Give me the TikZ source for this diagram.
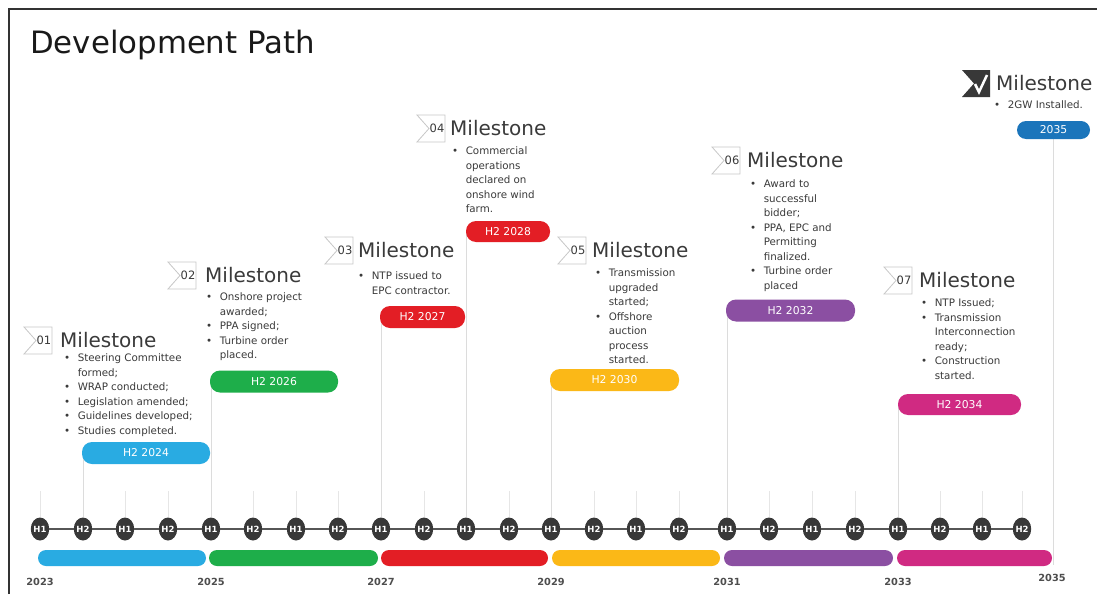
\documentclass[tikz,border=0pt]{standalone}
\usepackage{fontspec}
\setmainfont{DejaVu Sans}
\usetikzlibrary{positioning,shapes.geometric,backgrounds}
\definecolor{framegray}{HTML}{333333}
\definecolor{txt}{HTML}{3A3A3A}
\definecolor{hdark}{HTML}{383838}
\definecolor{guidegray}{HTML}{DCDCDC}
\definecolor{flaggray}{HTML}{C8C8C8}
\definecolor{cblue}{HTML}{29ABE2}
\definecolor{cgreen}{HTML}{1EAE4A}
\definecolor{cred}{HTML}{E31E25}
\definecolor{cyellow}{HTML}{FBB817}
\definecolor{cpurple}{HTML}{8B4FA2}
\definecolor{cmagenta}{HTML}{D02A82}
\definecolor{cnavy}{HTML}{1B75BB}
\newcommand{\msitems}[1]{\begin{tabular}[t]{@{}l@{\hspace{7.5pt}}l@{}}#1\end{tabular}}

\begin{document}
\begin{tikzpicture}[x=1pt, y=-1pt,
  every node/.style={font=\fontsize{10.3}{14.5}\selectfont, text=txt},
  half/.style={ellipse, fill=hdark, minimum width=16pt, minimum height=23pt, inner sep=0pt,
    text=white, font=\fontsize{8.5}{9}\selectfont\bfseries},
  pill/.style={fill=#1, rounded corners=10pt, minimum height=22pt, inner sep=0pt, text=white,
    font=\fontsize{10.8}{12}\selectfont},
  items/.style={anchor=base west, inner sep=0pt},
  mstitle/.style={anchor=west, inner sep=0pt, font=\fontsize{20}{22}\selectfont},
  year/.style={inner sep=0pt, font=\fontsize{9.8}{12}\selectfont\bfseries, text=txt!90},
  guide/.style={draw=guidegray, line width=0.8pt},
  tickline/.style={draw=guidegray!70, line width=0.6pt},
  flagline/.style={draw=flaggray, fill=white, line width=0.8pt}]
  \useasboundingbox (0,0) rectangle (1097,594);
  \begin{scope}[on background layer]
    \fill[white] (0,0) rectangle (1097,594);
  \end{scope}
  \draw[framegray, line width=2pt] (9,594) -- (9,9) -- (1097,9);
  \node[anchor=base west, inner sep=0pt, font=\fontsize{30.8}{36}\selectfont, text=black!90] (title) at (30,54) {Development Path};

  \foreach \n/\fx/\fy/\mx in {01/24/327/60, 02/168/262/205, 03/325/237/358, 04/417/115/450,
                             05/558/237/592, 06/712/147/747, 07/884/267/919} {
    \draw[flagline] (\fx,\fy) -- ++(28,0) -- ++(0,27) -- ++(-28,0) -- ++(12,-13.5) -- cycle;
    \node[inner sep=0pt, font=\fontsize{11.5}{12}\selectfont] (num\n) at (\fx+20,\fy+13.5) {\n};
    \node[mstitle] (ms\n) at (\mx,\fy+13) {Milestone};
  }
  \fill[hdark] (962,70) -- ++(28,0) -- ++(0,27) -- ++(-28,0) -- ++(12,-13.5) -- cycle;
  \draw[white, line width=2.5pt] (975,84) -- (979,92) -- (987,75);
  \node[mstitle] (ms08) at (996,83) {Milestone};

  \node[items] (list01) at (64,361.5) {\msitems{\textbullet&Steering Committee\\&formed;\\
    \textbullet&WRAP conducted;\\\textbullet&Legislation amended;\\
    \textbullet&Guidelines developed;\\\textbullet&Studies completed.}};
  \node[items] (list02) at (206,300.5) {\msitems{\textbullet&Onshore project\\&awarded;\\
    \textbullet&PPA signed;\\\textbullet&Turbine order\\&placed.}};
  \node[items] (list03) at (358,279.5) {\msitems{\textbullet&NTP issued to\\&EPC contractor.}};
  \node[items] (list04) at (452,154.5) {\msitems{\textbullet&Commercial\\&operations\\
    &declared on\\&onshore wind\\&farm.}};
  \node[items] (list05) at (595,276.5) {\msitems{\textbullet&Transmission\\&upgraded\\&started;\\
    \textbullet&Offshore\\&auction\\&process\\&started.}};
  \node[items] (list06) at (750,187.5) {\msitems{\textbullet&Award to\\&successful\\&bidder;\\
    \textbullet&PPA, EPC and\\&Permitting\\&finalized.\\\textbullet&Turbine order\\&placed}};
  \node[items] (list07) at (921,306.5) {\msitems{\textbullet&NTP Issued;\\\textbullet&Transmission\\
    &Interconnection\\&ready;\\\textbullet&Construction\\&started.}};
  \node[items] (list08) at (994,108.5) {\msitems{\textbullet&2GW Installed.}};

  \node[pill=cblue, minimum width=128pt] (p01) at (146,453) {H2 2024};
  \node[pill=cgreen, minimum width=128pt] (p02) at (274,381.5) {H2 2026};
  \node[pill=cred, minimum width=85pt] (p03) at (422.5,317) {H2 2027};
  \node[pill=cred, minimum width=84pt, minimum height=21pt] (p04) at (508,231.5) {H2 2028};
  \node[pill=cyellow, minimum width=129pt] (p05) at (614.5,380) {H2 2030};
  \node[pill=cpurple, minimum width=129pt] (p06) at (790.5,310.5) {H2 2032};
  \node[pill=cmagenta, minimum width=123pt, minimum height=21pt] (p07) at (959.5,404.5) {H2 2034};
  \node[pill=cnavy, minimum width=73pt, minimum height=18pt, rounded corners=9pt] (p08) at (1053.5,130) {2035};

  \foreach \hx [count=\k from 0] in {40,83,125,168,211,253,296,338,381,424,466,509,
                                     551,594,636,679,727,769,812,855,898,940,982,1022} {
    \pgfmathtruncatemacro\hh{mod(\k,2)+1}
    \node[half] (h\k) at (\hx,529) {H\hh};
  }
  \foreach \k [evaluate=\k as \j using int(\k+1)] in {0,...,22}
    \draw[hdark!85, line width=1.3pt] (h\k) -- (h\j);

  \coordinate (end35) at (1053.5,565);
  \begin{scope}[on background layer]
    \foreach \k in {0,...,23}
      \draw[tickline] (h\k.north) -- ++(0,-26);
    \foreach \p/\k in {01/1, 02/4, 03/8, 04/10, 05/12, 06/16, 07/20}
      \draw[guide] (h\k |- p\p) -- (h\k.north);
    \draw[guide] (p08) -- (p08 |- end35);
  \end{scope}

  \foreach \xa/\xb/\c in {38/206/cblue, 209/378/cgreen, 381/548/cred, 552/720/cyellow,
                          724/893/cpurple, 897/1052/cmagenta}
    \fill[\c, rounded corners=8pt] (\xa,550) rectangle (\xb,566);

  \foreach \yr/\yx in {2023/40, 2025/211, 2027/381, 2029/551, 2031/727, 2033/898}
    \node[year] (y\yr) at (\yx,582) {\yr};
  \node[year] (y2035) at (1052,578) {2035};
\end{tikzpicture}
\end{document}
